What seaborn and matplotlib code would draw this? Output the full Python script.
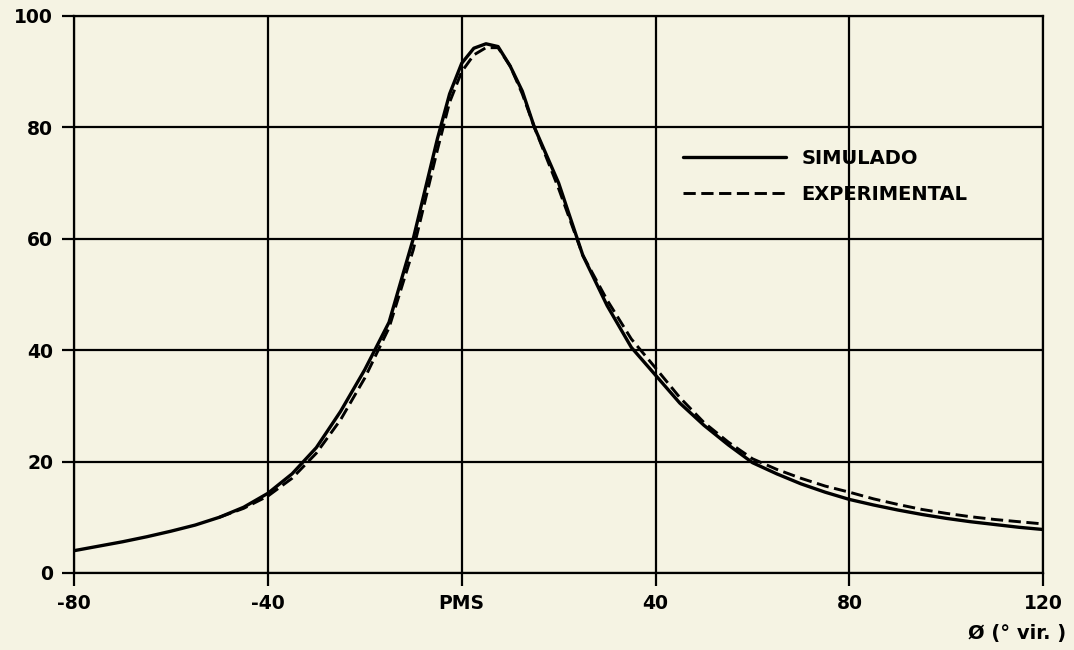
import matplotlib
matplotlib.use("Agg")
import matplotlib.pyplot as plt
import seaborn as sns
import pandas as pd

# ---- data ----
sim_x = [-80, -75, -70, -65, -60, -55, -50, -45, -40, -35, -30, -25, -20, -15, -10,
         -5, -2.5, 0, 2.5, 5, 7.5, 10, 12.5, 15, 20, 25, 30, 35, 40, 45, 50, 55, 60,
         65, 70, 75, 80, 85, 90, 95, 100, 105, 110, 115, 120]
sim_y = [4.0, 4.8, 5.6, 6.5, 7.5, 8.6, 10.0, 11.8, 14.3, 17.8, 22.5, 29.0, 36.5, 45.0, 60.0,
         78.0, 86.0, 91.5, 94.2, 95.0, 94.5, 91.0, 86.5, 80.0, 70.0, 57.0, 48.0, 40.5, 35.5,
         30.5, 26.5, 23.0, 19.8, 17.8, 16.0, 14.5, 13.2, 12.2, 11.3, 10.5, 9.8, 9.2, 8.7,
         8.2, 7.8]

exp_x = [-50, -45, -40, -35, -30, -25, -20, -15, -10, -5, -2.5, 0, 2.5, 5, 7.5, 10,
         12.5, 15, 20, 25, 30, 35, 40, 45, 50, 55, 60, 65, 70, 75, 80, 85, 90, 95, 100,
         105, 110, 115, 120]
exp_y = [10.0, 11.6, 13.8, 17.0, 21.5, 27.5, 35.0, 44.0, 58.0, 76.0, 84.5, 90.0, 93.0,
         94.3, 94.3, 91.0, 86.0, 80.0, 69.0, 57.0, 49.0, 42.0, 36.8, 31.5, 27.0, 23.5,
         20.5, 18.6, 17.0, 15.6, 14.5, 13.3, 12.3, 11.4, 10.7, 10.1, 9.6, 9.2, 8.8]

x_ticks = [-80, -40, 0, 40, 80, 120]
x_tick_labels = ["-80", "-40", "PMS", "40", "80", "120"]
y_ticks = [0, 20, 40, 60, 80, 100]
series_labels = ["SIMULADO", "EXPERIMENTAL"]
x_label = "Ø (° vir. )"

bg = "#f5f3e3"
sns.set_theme(style="white")
plt.rcParams["font.family"] = ["DejaVu Sans"]

fig = plt.figure(figsize=(10.74, 6.5), dpi=100, facecolor=bg)
ax = fig.add_axes([0.0689, 0.1185, 0.9025, 0.857])
ax.set_facecolor(bg)

sim_df = pd.DataFrame({"x": sim_x, "y": sim_y})
exp_df = pd.DataFrame({"x": exp_x, "y": exp_y})
sns.lineplot(data=sim_df, x="x", y="y", ax=ax, color="black", lw=2.4,
             estimator=None, sort=False, label=series_labels[0])
sns.lineplot(data=exp_df, x="x", y="y", ax=ax, color="black", lw=2.1,
             estimator=None, sort=False, label=series_labels[1],
             linestyle=(0, (4.2, 1.9)))

ax.set_xlim(-80, 120)
ax.set_ylim(0, 100)
ax.set_xticks(x_ticks)
ax.set_xticklabels(x_tick_labels)
ax.set_yticks(y_ticks)
ax.grid(True, color="black", lw=1.6)
for s in ax.spines.values():
    s.set_color("black")
    s.set_linewidth(1.6)
ax.tick_params(axis="both", direction="out", length=9, width=1.6, color="black",
               labelcolor="black", labelsize=13.5, pad=6, bottom=True, left=True)
for lab in ax.get_xticklabels() + ax.get_yticklabels():
    lab.set_fontweight("bold")
ax.set_xlabel("")
ax.set_ylabel("")

leg = ax.legend(loc="upper left", bbox_to_anchor=(0.628, 0.761), frameon=False,
                handlelength=5.3, handletextpad=0.8, labelspacing=0.85, borderpad=0,
                borderaxespad=0, prop={"size": 14, "weight": "bold"})
for t in leg.get_texts():
    t.set_color("black")

fig.text(1066 / 1074, 1 - 633 / 650, x_label, ha="right", va="center",
         fontsize=14, fontweight="bold", color="black")

fig.savefig("out.png", dpi=100, facecolor=bg)
